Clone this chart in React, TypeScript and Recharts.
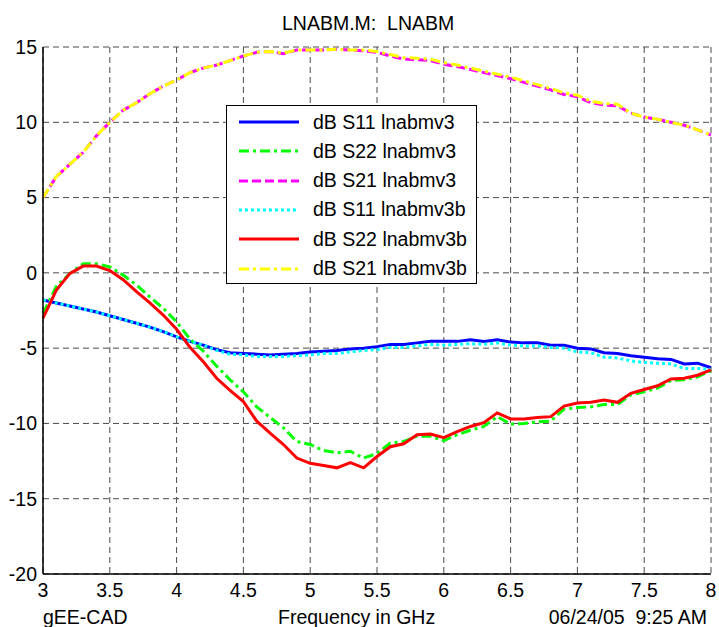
import { LineChart, Line, XAxis, YAxis, CartesianGrid, Legend } from 'recharts';

// frequency points (GHz)
const freq = [
  3.0, 3.1, 3.2, 3.3, 3.4, 3.5, 3.6, 3.7, 3.8, 3.9,
  4.0, 4.1, 4.2, 4.3, 4.4, 4.5, 4.6, 4.7, 4.8, 4.9,
  5.0, 5.1, 5.2, 5.3, 5.4, 5.5, 5.6, 5.7, 5.8, 5.9,
  6.0, 6.1, 6.2, 6.3, 6.4, 6.5, 6.6, 6.7, 6.8, 6.9,
  7.0, 7.1, 7.2, 7.3, 7.4, 7.5, 7.6, 7.7, 7.8, 7.9,
  8.0,
];

const s11v3 = [
  -1.8, -2.0, -2.2, -2.4, -2.6, -2.85, -3.1, -3.35, -3.6, -3.9,
  -4.25, -4.55, -4.8, -5.1, -5.3, -5.35, -5.4, -5.45, -5.4, -5.35,
  -5.25, -5.2, -5.15, -5.05, -5.0, -4.9, -4.75, -4.75, -4.65, -4.55,
  -4.55, -4.55, -4.45, -4.55, -4.45, -4.6, -4.65, -4.65, -4.8, -4.8,
  -5.0, -5.05, -5.3, -5.35, -5.5, -5.6, -5.7, -5.75, -6.05, -6.0,
  -6.3,
];

const s22v3 = [
  -2.7, -0.9, -0.05, 0.6, 0.6, 0.4, -0.15, -0.8, -1.6, -2.35,
  -3.25, -4.4, -5.2, -6.2, -7.1, -7.9, -8.9, -9.6, -10.3, -11.2,
  -11.4, -11.8, -11.95, -11.85, -12.3, -12.0, -11.3, -11.2, -10.85, -10.85,
  -11.15, -10.75, -10.45, -10.2, -9.55, -10.05, -10.0, -9.9, -9.85, -9.05,
  -8.95, -8.9, -8.75, -8.75, -8.1, -7.9, -7.65, -7.15, -7.1, -6.9,
  -6.5,
];

const s21v3 = [
  5.0, 6.4, 7.2, 8.0, 9.1, 10.0, 10.8, 11.3, 11.9, 12.4,
  12.8, 13.3, 13.6, 13.8, 14.1, 14.4, 14.65, 14.7, 14.55, 14.8,
  14.8, 14.8, 14.85, 14.8, 14.75, 14.65, 14.4, 14.2, 14.15, 14.1,
  13.85, 13.7, 13.5, 13.3, 13.1, 12.9, 12.65, 12.4, 12.15, 11.85,
  11.7, 11.3, 11.15, 11.1, 10.6, 10.35, 10.2, 10.0, 9.8, 9.5,
  9.15,
];

const s11v3b = [
  -1.8, -2.0, -2.2, -2.4, -2.6, -2.85, -3.1, -3.35, -3.6, -3.9,
  -4.25, -4.55, -4.8, -5.15, -5.4, -5.45, -5.55, -5.55, -5.55, -5.5,
  -5.45, -5.35, -5.35, -5.25, -5.15, -5.1, -4.95, -4.95, -4.85, -4.75,
  -4.8, -4.75, -4.7, -4.75, -4.65, -4.8, -4.85, -4.85, -4.95, -5.0,
  -5.25, -5.3, -5.6, -5.65, -5.85, -5.95, -6.0, -6.05, -6.35, -6.35,
  -6.4,
];

const s22v3b = [
  -3.0, -1.15, -0.05, 0.45, 0.45, 0.15, -0.45, -1.25, -2.0, -2.8,
  -3.75, -4.95, -5.9, -7.0, -7.8, -8.55, -9.85, -10.65, -11.4, -12.3,
  -12.65, -12.8, -12.95, -12.6, -12.95, -12.2, -11.55, -11.35, -10.75, -10.7,
  -10.95, -10.55, -10.2, -9.95, -9.3, -9.7, -9.7, -9.6, -9.55, -8.85,
  -8.65, -8.6, -8.45, -8.6, -8.0, -7.75, -7.5, -7.05, -7.0, -6.8,
  -6.45,
];

const s21v3b = [
  5.0, 6.4, 7.2, 8.0, 9.1, 10.0, 10.8, 11.3, 11.9, 12.4,
  12.8, 13.3, 13.6, 13.8, 14.1, 14.4, 14.65, 14.7, 14.6, 14.8,
  14.8, 14.8, 14.85, 14.8, 14.8, 14.7, 14.5, 14.3, 14.25, 14.2,
  13.95, 13.8, 13.6, 13.4, 13.2, 13.0, 12.75, 12.5, 12.25, 11.95,
  11.8, 11.4, 11.25, 11.2, 10.6, 10.35, 10.2, 10.0, 9.8, 9.5,
  9.15,
];

const xTicks = [3, 3.5, 4, 4.5, 5, 5.5, 6, 6.5, 7, 7.5, 8];
const yTicks = [-20, -15, -10, -5, 0, 5, 10, 15];

const series = [
  { key: 's11v3', name: 'dB S11 lnabmv3', color: '#0000ff', dash: undefined, values: s11v3 },
  { key: 's22v3', name: 'dB S22 lnabmv3', color: '#00ff00', dash: '10 4 3 4', values: s22v3 },
  { key: 's21v3', name: 'dB S21 lnabmv3', color: '#ff00ff', dash: '9 4', values: s21v3 },
  { key: 's11v3b', name: 'dB S11 lnabmv3b', color: '#00ffff', dash: '3 3', values: s11v3b },
  { key: 's22v3b', name: 'dB S22 lnabmv3b', color: '#ff0000', dash: undefined, values: s22v3b },
  { key: 's21v3b', name: 'dB S21 lnabmv3b', color: '#ffff00', dash: '10 4 3 4', values: s21v3b },
];

const data = freq.map((f, i) => {
  const row: Record<string, number> = { f };
  series.forEach((s) => {
    row[s.key] = s.values[i];
  });
  return row;
});

const FONT = '"Liberation Sans", Arial, Helvetica, sans-serif';
const FS = 19.5;

// MATLAB-style legend box
function LegendBox() {
  return (
    <div
      style={{
        position: 'relative',
        width: 249,
        height: 177,
        border: '1px solid #000',
        background: '#fff',
        fontFamily: FONT,
        fontSize: FS,
        color: '#000',
      }}
    >
      {series.map((s, i) => (
        <div
          key={s.key}
          style={{
            position: 'absolute',
            left: 0,
            top: 3 + i * 29.3,
            height: 26,
            display: 'flex',
            alignItems: 'center',
            whiteSpace: 'nowrap',
          }}
        >
          <svg width={86} height={26} style={{ display: 'block' }}>
            <line
              x1={12}
              x2={72}
              y1={13}
              y2={13}
              stroke={s.color}
              strokeWidth={3}
              strokeDasharray={s.dash}
            />
          </svg>
          <span>{s.name}</span>
        </div>
      ))}
    </div>
  );
}

export default function App() {
  return (
    <div style={{ position: 'absolute', left: 0, top: 0, width: 719, height: 627, background: '#fff' }}>
      <LineChart
        width={719}
        height={627}
        data={data}
        margin={{ top: 47, right: 8, left: 0, bottom: 0 }}
      >
        <CartesianGrid stroke="#4a4a4a" strokeDasharray="6 4" strokeWidth={1} />
        <XAxis
          dataKey="f"
          type="number"
          domain={[3, 8]}
          ticks={xTicks}
          height={53}
          tickSize={0}
          tickMargin={9}
          axisLine={{ stroke: '#000', strokeWidth: 1.5 }}
          tick={{ fill: '#000', fontSize: FS, fontFamily: FONT }}
        />
        <XAxis
          xAxisId="top"
          dataKey="f"
          type="number"
          orientation="top"
          domain={[3, 8]}
          ticks={xTicks}
          height={0}
          tick={false}
          tickLine={false}
          axisLine={{ stroke: '#000', strokeWidth: 1.5 }}
        />
        <YAxis
          type="number"
          domain={[-20, 15]}
          ticks={yTicks}
          width={43}
          tickSize={0}
          tickMargin={6}
          axisLine={{ stroke: '#000', strokeWidth: 1.5 }}
          tick={{ fill: '#000', fontSize: FS, fontFamily: FONT }}
        />
        <YAxis
          yAxisId="right"
          type="number"
          orientation="right"
          domain={[-20, 15]}
          ticks={yTicks}
          width={0}
          tick={false}
          tickLine={false}
          axisLine={{ stroke: '#000', strokeWidth: 1.5 }}
        />
        {series.map((s) => (
          <Line
            key={s.key}
            dataKey={s.key}
            name={s.name}
            type="linear"
            stroke={s.color}
            strokeWidth={3}
            strokeDasharray={s.dash}
            dot={false}
            activeDot={false}
            isAnimationActive={false}
          />
        ))}
        <Legend
          layout="vertical"
          align="center"
          verticalAlign="middle"
          content={() => <LegendBox />}
          wrapperStyle={{ left: 226, top: 105, width: 251, height: 179 }}
        />
      </LineChart>
      <svg
        width={719}
        height={627}
        style={{ position: 'absolute', left: 0, top: 0, pointerEvents: 'none' }}
        fontFamily={FONT}
        fontSize={FS}
        fill="#000"
      >
        <text x={282} y={30} style={{ whiteSpace: 'pre' }}>LNABM.M:  LNABM</text>
        <text x={43} y={623.5}>gEE-CAD</text>
        <text x={278} y={623.5}>Frequency in GHz</text>
        <text x={707} y={623.5} textAnchor="end" style={{ whiteSpace: 'pre' }}>06/24/05  9:25 AM</text>
      </svg>
    </div>
  );
}
